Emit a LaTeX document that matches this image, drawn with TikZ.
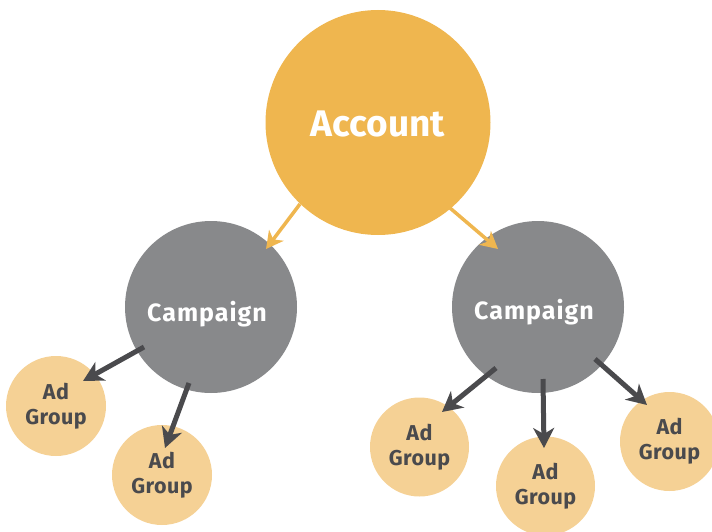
\documentclass[tikz,border=0pt]{standalone}
\usepackage{fontspec}
\setmainfont{Fira Sans}
\usetikzlibrary{arrows.meta,calc}
\definecolor{acc}{HTML}{EFB64F}
\definecolor{camp}{HTML}{88898B}
\definecolor{adg}{HTML}{F5D195}
\definecolor{dk}{HTML}{4A4A4D}
\begin{document}
\begin{tikzpicture}[x=1pt,y=-1pt,
  bub/.style={circle,inner sep=0pt,minimum size=#1},
  acctxt/.style={text=white,font=\fontsize{37}{40}\selectfont\bfseries,inner sep=0pt,anchor=base},
  camptxt/.style={text=white,font=\fontsize{25}{28}\selectfont\bfseries\addfontfeatures{LetterSpace=4},inner sep=0pt,anchor=base},
  adtxt/.style={text=dk,font=\fontsize{21.5}{25}\selectfont\bfseries\addfontfeatures{LetterSpace=2},inner sep=0pt,anchor=base,align=center},
  oarr/.style={draw=acc,line width=3.5pt,-{Stealth[length=17pt,width=18pt,inset=5pt]}},
  darr/.style={draw=dk,line width=5pt,-{Stealth[length=20pt,width=21pt,inset=6pt]}}]
\useasboundingbox (0,0) rectangle (712,532);
\node[bub=225pt,fill=acc] (a) at (378,122.5) {};
\node[bub=172pt,fill=camp] (c1) at (211,307) {};
\node[bub=172pt,fill=camp] (c2) at (538,307) {};
\node[bub=100pt,fill=adg] (g1) at (56,406) {};
\node[bub=100pt,fill=adg] (g2) at (162,475) {};
\node[bub=99pt,fill=adg] (g3) at (419.5,447) {};
\node[bub=99pt,fill=adg] (g4) at (545.5,486) {};
\node[bub=99pt,fill=adg] (g5) at (669.5,441.5) {};
\node[acctxt] (ta) at ($(a)+(0,13.5)$) {Account};
\node[camptxt] (tc1) at ($(c1)+(-4,14)$) {Campaign};
\node[camptxt] (tc2) at ($(c2)+(-4,12)$) {Campaign};
\node[adtxt] (tg1) at ($(g1)+(0,18)$) {Ad\\Group};
\node[adtxt] (tg2) at ($(g2)+(0,18)$) {Ad\\Group};
\node[adtxt] (tg3) at ($(g3)+(0,18)$) {Ad\\Group};
\node[adtxt] (tg4) at ($(g4)+(0,18)$) {Ad\\Group};
\node[adtxt] (tg5) at ($(g5)+(0,18)$) {Ad\\Group};
\draw[oarr] ($(a)+(-78,81.5)$) -- ($(c1)+(55,-58)$);
\draw[oarr] ($(a)+(72,85.5)$) -- ($(c2)+(-40,-58)$);
\draw[darr] ($(c1)+(-67,40)$) -- ($(g1)+(27,-25)$);
\draw[darr] ($(c1)+(-22,76)$) -- ($(g2)+(3,-27)$);
\draw[darr] ($(c2)+(-42,61)$) -- ($(g3)+(22.5,-35)$);
\draw[darr] ($(c2)+(5,72)$) -- ($(g4)+(-1.5,-38)$);
\draw[darr] ($(c2)+(57,52)$) -- ($(g5)+(-22.5,-36.5)$);
\end{tikzpicture}
\end{document}
